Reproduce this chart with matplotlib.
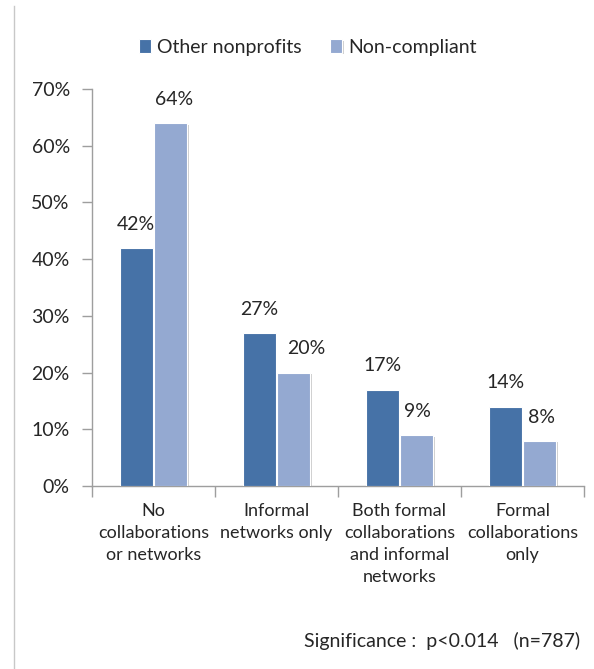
import matplotlib
matplotlib.use("Agg")
import matplotlib.pyplot as plt
import matplotlib.patheffects as pe
from matplotlib.lines import Line2D
import numpy as np

categories = [
    "No\ncollaborations\nor networks",
    "Informal\nnetworks only",
    "Both formal\ncollaborations\nand informal\nnetworks",
    "Formal\ncollaborations\nonly",
]
other_nonprofits = [42, 27, 17, 14]
non_compliant = [64, 20, 9, 8]
series_names = ["Other nonprofits", "Non-compliant"]
y_ticks = [0, 10, 20, 30, 40, 50, 60, 70]

plt.rcParams["font.family"] = ["Lato", "DejaVu Sans"]
TEXT = "#262626"
AXIS = "#9e9e9e"
DARK = "#4672A7"
LIGHT = "#94A9D1"

W, H = 594, 669
fig = plt.figure(figsize=(W / 100, H / 100), dpi=100)
ax = fig.add_axes([92 / W, 1 - 486 / H, (584 - 92) / W, (486 - 89) / H])

x = np.arange(len(categories))
width = 0.268
off = 0.142
shadow = [pe.SimplePatchShadow(offset=(1.2, -1.2), shadow_rgbFace="#a8a8a8", alpha=0.55), pe.Normal()]

b1 = ax.bar(x - off, other_nonprofits, width, color=DARK, edgecolor="white", linewidth=0.8,
            label=series_names[0], zorder=3)
b2 = ax.bar(x + off, non_compliant, width, color=LIGHT, edgecolor="white", linewidth=0.8,
            label=series_names[1], zorder=3)
for bars in (b1, b2):
    for p in bars:
        p.set_path_effects(shadow)

# horizontal nudges (points) for individual value labels
nudge_other = [0, 0, 0, 0]
nudge_noncomp = [2, 9, 0, 1]
for xs, vals, nudges in ((x - off, other_nonprofits, nudge_other),
                         (x + off, non_compliant, nudge_noncomp)):
    for xi, v, dx in zip(xs, vals, nudges):
        ax.annotate(f"{v}%", (xi, v), xytext=(dx, 17), textcoords="offset points",
                    ha="center", va="center", fontsize=14, color=TEXT)

ax.set_xlim(-0.5, len(categories) - 0.5)
ax.set_ylim(0, 70)
ax.set_yticks(y_ticks)
ax.set_yticklabels([f"{t}%" for t in y_ticks], fontsize=14, color=TEXT)
ax.set_xticks(np.arange(len(categories) + 1) - 0.5)
ax.set_xticklabels([])
ax.tick_params(axis="y", length=7, width=1, color=AXIS, pad=9)
ax.tick_params(axis="x", length=8, width=1, color=AXIS, direction="out")
for s in ("top", "right"):
    ax.spines[s].set_visible(False)
for s in ("left", "bottom"):
    ax.spines[s].set_color(AXIS)
    ax.spines[s].set_linewidth(1)

for xi, lab in zip(x, categories):
    ax.annotate(lab, (xi, 0), xytext=(0, -12), textcoords="offset points",
                ha="center", va="top", fontsize=13, color=TEXT, linespacing=1.48)

fig.legend(handles=[b1, b2], labels=series_names, loc="center", bbox_to_anchor=(0.518, 1 - 47 / H),
           ncol=2, frameon=False, fontsize=14, handlelength=0.6, handleheight=0.7,
           handletextpad=0.3, columnspacing=1.5, labelcolor=TEXT)

fig.text(580 / W, 1 - 641 / H, "Significance :  p<0.014   (n=787)", ha="right", va="center",
         fontsize=14, color=TEXT)

fig.add_artist(Line2D([14 / W, 14 / W], [0, 1 - 6 / H], color="#c8c8c8", linewidth=1))

fig.savefig("out.png", dpi=100)
